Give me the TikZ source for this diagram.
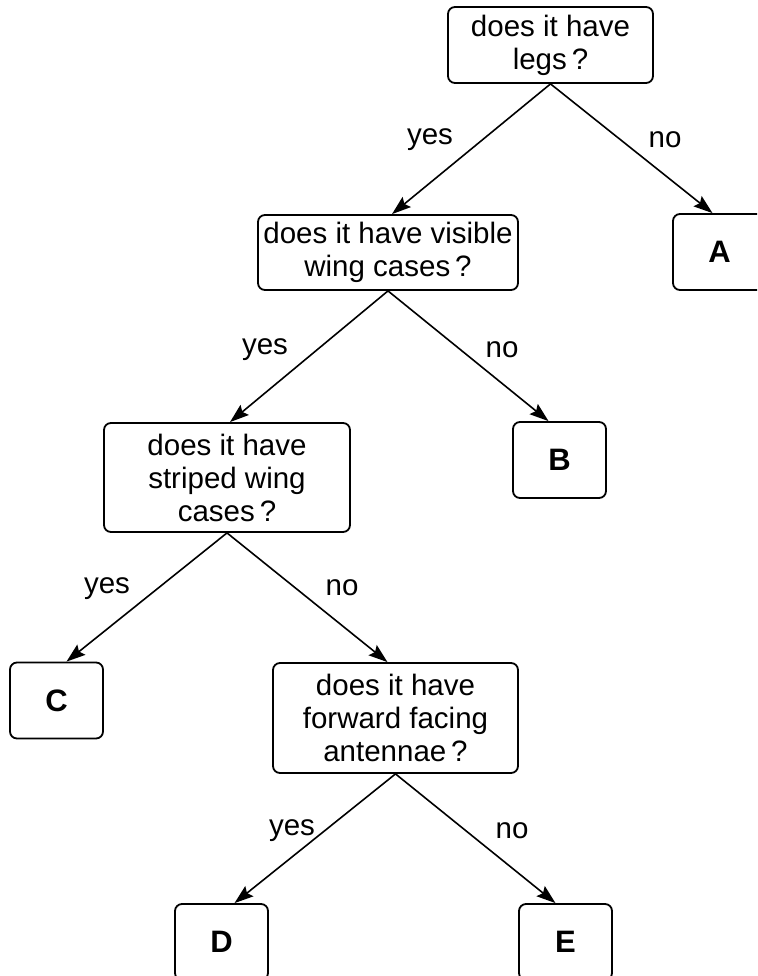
\documentclass[tikz,border=0pt]{standalone}
\usepackage{fontspec}
\setmainfont{Liberation Sans}
\usetikzlibrary{arrows.meta}
\begin{document}
\begin{tikzpicture}[x=1pt,y=-1pt,>={Stealth[length=19pt,width=13pt,inset=3pt]},
  box/.style={draw,line width=1.8pt,rounded corners=7pt,align=center,inner sep=0pt,
    font=\fontsize{29.5}{33}\selectfont},
  leaf/.style={box,minimum width=93pt,minimum height=76pt,font=\fontsize{31}{33}\selectfont\bfseries},
  lab/.style={font=\fontsize{29.5}{33}\selectfont},
  arr/.style={->,line width=1.6pt}]
\useasboundingbox (0,0) rectangle (757,976);
\clip (0,0) rectangle (757,976);
% questions
\node[box,minimum width=205pt,minimum height=76pt](legs) at (550.5,45){does it have\\legs\,?};
\node[box,minimum width=260pt,minimum height=75pt](visible) at (388,252.5){does it have visible\\wing cases\,?};
\node[box,minimum width=246pt,minimum height=109pt](striped) at (227,477.5){does it have\\striped wing\\cases\,?};
\node[box,minimum width=245pt,minimum height=110pt](forward) at (395.5,718){does it have\\forward facing\\antennae\,?};
% answers
\node[leaf](A) at (719.5,252){A};
\node[leaf](B) at (559.5,460){B};
\node[leaf](C) at (56.5,700.5){C};
\node[leaf](D) at (221.5,942){D};
\node[leaf](E) at (565.5,942){E};
% arrows
\draw[arr](legs.south)--([xshift=4pt]visible.north);
\draw[arr](legs.south)--([xshift=-7pt]A.north);
\draw[arr](visible.south)--([xshift=3pt]striped.north);
\draw[arr](visible.south)--([xshift=-11pt]B.north);
\draw[arr](striped.south)--([xshift=10pt]C.north);
\draw[arr](striped.south)--([xshift=-8pt]forward.north);
\draw[arr](forward.south)--([xshift=13pt]D.north);
\draw[arr](forward.south)--([xshift=-10pt]E.north);
% labels
\node[lab](y1) at (430,140){yes};
\node[lab](n1) at (665,140){no};
\node[lab](y2) at (265,350){yes};
\node[lab](n2) at (502,350){no};
\node[lab](y3) at (107,589){yes};
\node[lab](n3) at (342,588){no};
\node[lab](y4) at (292,831){yes};
\node[lab](n4) at (512,831){no};
\end{tikzpicture}
\end{document}
